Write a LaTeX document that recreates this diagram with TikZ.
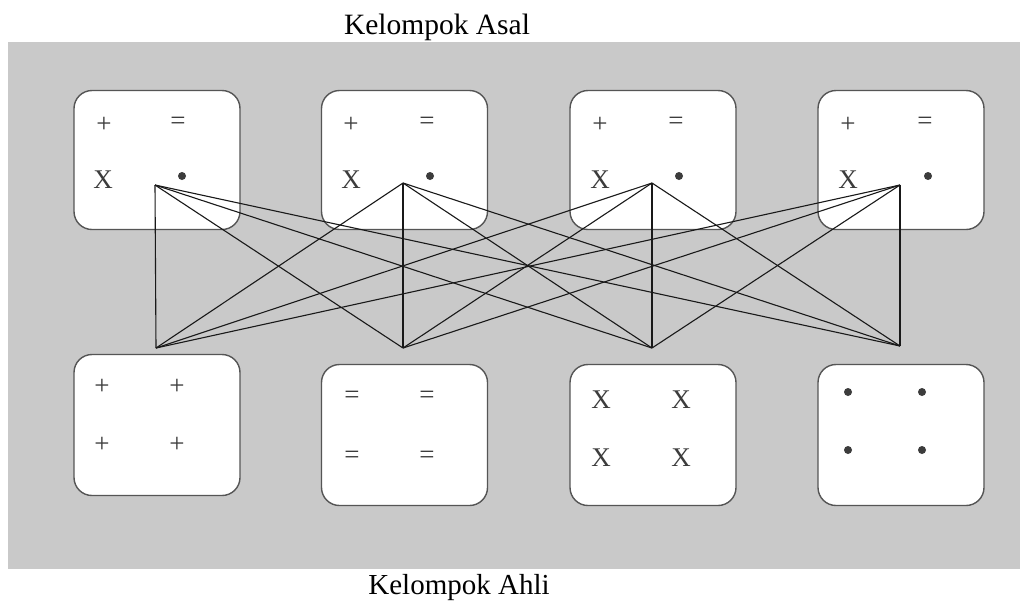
\documentclass[tikz,border=0pt]{standalone}
\usepackage{fontspec}
\setmainfont{Liberation Serif}
\definecolor{bggray}{RGB}{201,201,201}
\definecolor{rimgray}{RGB}{85,85,85}
\definecolor{markgray}{RGB}{60,60,60}

\begin{document}
\begin{tikzpicture}[x=1pt,y=-1pt]
			\tikzstyle{every node}+=[inner sep=0pt]
			\tikzstyle{grup}=[draw=rimgray, line width=1.4pt, fill=white, rounded corners=18pt, minimum width=166pt, minimum height=139pt]
			\tikzstyle{tanda}=[text=markgray, font=\fontsize{27}{27}\selectfont]
			\tikzstyle{titik}=[circle, fill=markgray, minimum size=8pt]
			\tikzstyle{garis}=[black!90, line width=1.1pt]
			\useasboundingbox (0,0) rectangle (1024,603);
			\fill [bggray] (8,42) rectangle (1020,569);
			\node (asal) at (437,27) {\fontsize{29.5}{29.5}\selectfont Kelompok Asal};
			\node (ahli) at (459,588) {\fontsize{29}{29}\selectfont Kelompok Ahli};
			% kelompok asal
			\node [grup] (a1) at (157,160) {};
			\node [grup] (a2) at (404.5,160) {};
			\node [grup] (a3) at (653,160) {};
			\node [grup] (a4) at (901,160) {};
			\node [tanda] (a1p) at (104,125) {+};
			\node [tanda] (a1s) at (178,123) {=};
			\node [tanda] (a1x) at (103,180) {X};
			\node [titik] (a1t) at (182,176) {};
			\node [tanda] (a2p) at (351,125) {+};
			\node [tanda] (a2s) at (427,123) {=};
			\node [tanda] (a2x) at (351,180) {X};
			\node [titik] (a2t) at (430,176) {};
			\node [tanda] (a3p) at (600,125) {+};
			\node [tanda] (a3s) at (676,123) {=};
			\node [tanda] (a3x) at (600,180) {X};
			\node [titik] (a3t) at (679,176) {};
			\node [tanda] (a4p) at (848,125) {+};
			\node [tanda] (a4s) at (925,123) {=};
			\node [tanda] (a4x) at (848,180) {X};
			\node [titik] (a4t) at (928,176) {};
			% kelompok ahli
			\node [grup, minimum height=141pt] (b1) at (157,425) {};
			\node [grup, minimum height=141pt] (b2) at (404.5,435) {};
			\node [grup, minimum height=141pt] (b3) at (653,435) {};
			\node [grup, minimum height=141pt] (b4) at (901,435) {};
			\node [tanda] (b1a) at (102,387) {+};
			\node [tanda] (b1b) at (177,387) {+};
			\node [tanda] (b1c) at (102,445) {+};
			\node [tanda] (b1d) at (177,445) {+};
			\node [tanda] (b2a) at (352,397) {=};
			\node [tanda] (b2b) at (427,397) {=};
			\node [tanda] (b2c) at (352,457) {=};
			\node [tanda] (b2d) at (427,457) {=};
			\node [tanda] (b3a) at (601,400) {X};
			\node [tanda] (b3b) at (681,400) {X};
			\node [tanda] (b3c) at (601,458) {X};
			\node [tanda] (b3d) at (681,458) {X};
			\node [titik] (b4a) at (848,392) {};
			\node [titik] (b4b) at (922,392) {};
			\node [titik] (b4c) at (848,450) {};
			\node [titik] (b4d) at (922,450) {};
			% titik simpul
			\coordinate (ta1) at (155,185);
			\coordinate (ta2) at (403,183);
			\coordinate (ta3) at (652,183);
			\coordinate (ta4) at (900,185);
			\coordinate (tb1) at (156,348);
			\coordinate (tb2) at (403,348);
			\coordinate (tb3) at (652,348);
			\coordinate (tb4) at (900,346);
			% garis
			\draw [garis] (ta1) -- (tb1);
			\draw [garis] (ta1) -- (tb2);
			\draw [garis] (ta1) -- (tb3);
			\draw [garis] (ta1) -- (tb4);
			\draw [garis] (ta2) -- (tb1);
			\draw [garis] (ta2) -- (tb2);
			\draw [garis] (ta2) -- (tb3);
			\draw [garis] (ta2) -- (tb4);
			\draw [garis] (ta3) -- (tb1);
			\draw [garis] (ta3) -- (tb2);
			\draw [garis] (ta3) -- (tb3);
			\draw [garis] (ta3) -- (tb4);
			\draw [garis] (ta4) -- (tb1);
			\draw [garis] (ta4) -- (tb2);
			\draw [garis] (ta4) -- (tb3);
			\draw [garis] (ta4) -- (tb4);
\end{tikzpicture}
\end{document}
